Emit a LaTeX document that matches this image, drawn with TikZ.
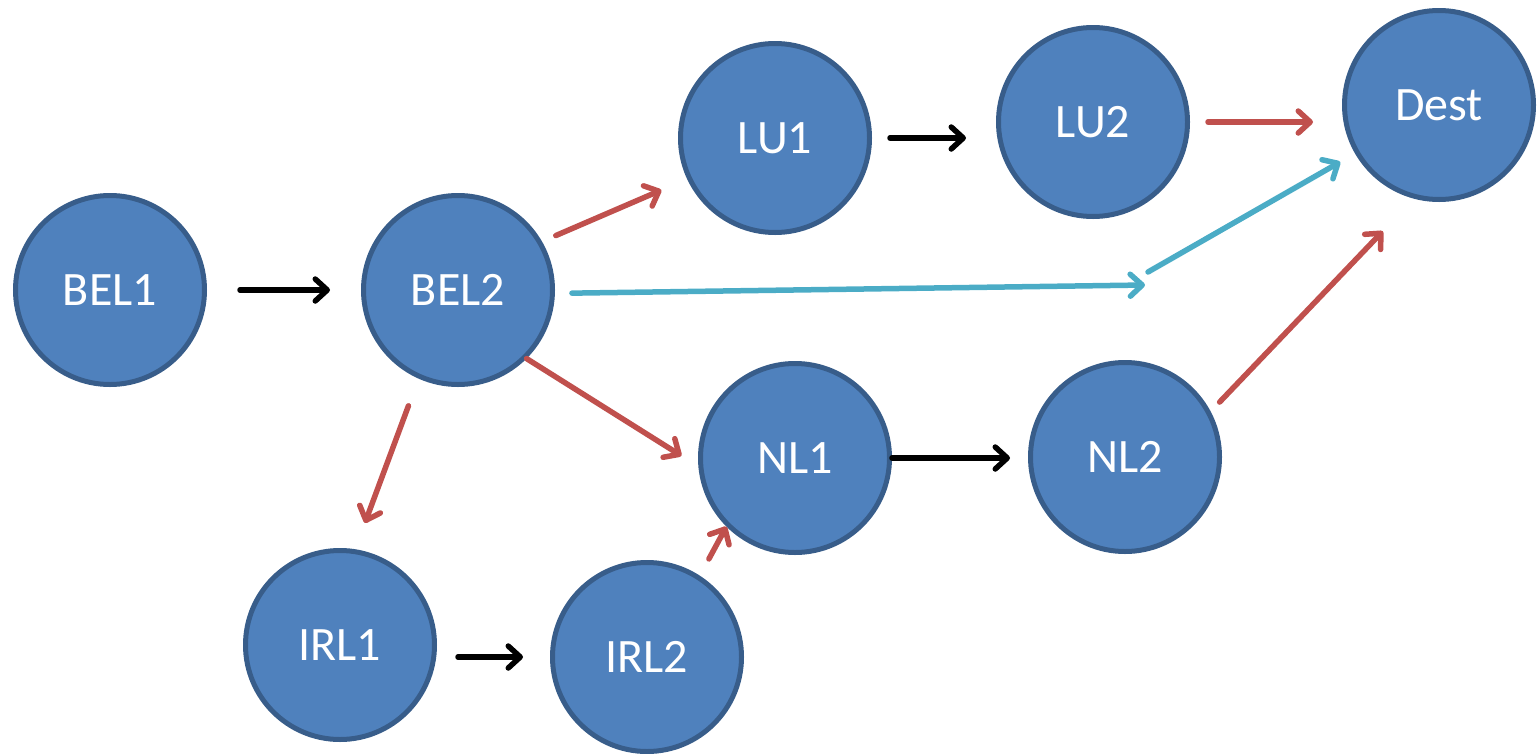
\documentclass[tikz,border=0pt]{standalone}
\usepackage{fontspec}
\setmainfont{Carlito}
\usepackage{tikz}
\usetikzlibrary{arrows.meta}
\definecolor{hopblue}{HTML}{4F81BD}
\definecolor{hopedge}{HTML}{385D8A}
\definecolor{linkred}{HTML}{C0504D}
\definecolor{linkcyan}{HTML}{4BACC6}

\begin{document}
\begin{tikzpicture} [x=1pt, y=-1pt,
    hop/.style={circle, draw=hopedge, fill=hopblue, line width=5pt,
      minimum size=189pt, inner sep=0pt, text=white,
      font=\fontsize{48}{56}\selectfont},
    link/.style={every edge/.style={draw, line width=5.5pt, line cap=round,
      -{Straight Barb[length=12pt,width=22pt,line cap=round,line join=round]}}}
  ]
    \useasboundingbox (0,0) rectangle (1537,753);

    \node[hop] (bel1) at (110,290) {BEL1};
    \node[hop] (bel2) at (458,290) {BEL2};
    \node[hop] (lu1)  at (775,138) {LU1};
    \node[hop] (lu2)  at (1093,122) {LU2};
    \node[hop] (dest) at (1439,105) {Dest};
    \node[hop] (nl1)  at (795,458) {NL1};
    \node[hop] (nl2)  at (1125,457) {NL2};
    \node[hop] (irl1) at (340,645) {IRL1};
    \node[hop] (irl2) at (647,657) {IRL2};

    \coordinate (via1) at (1145,285);
    \coordinate (via2) at (1148,272);

      \path[link,black]
      (bel1.east) edge[shorten <=33pt, shorten >=31pt] (bel2.west)
      (lu1.east) edge[shorten <=18pt, shorten >=30pt] (lu1.east -| lu2.west)
      (irl2.west -| irl1.east) edge[shorten <=21pt, shorten >=27pt] (irl2.west)
      (nl1.east) edge[shorten >=18pt] (nl1.east -| nl2.west)
      ;
      \path[link,linkred]
      (bel2.30) edge[shorten <=15pt, shorten >=28pt] (lu1.205)
      (lu2.east) edge[shorten <=18pt, shorten >=29pt] (lu2.east -| dest.west)
      (bel2.-45) edge[shorten >=20pt] (nl1.185)
      (bel2.-114) edge[shorten <=29pt, shorten >=28pt] (irl1.81)
      (irl2.57) edge[shorten <=19pt] (nl1.225)
      (nl2.28) edge[shorten <=13pt, shorten >=45pt] (dest.255)
      ;
      \path[link,linkcyan]
      (bel2.-2) edge[shorten <=17pt] (via1)
      (via2) edge[shorten >=17pt] (dest.210)
      ;
    \end{tikzpicture}
\end{document}
